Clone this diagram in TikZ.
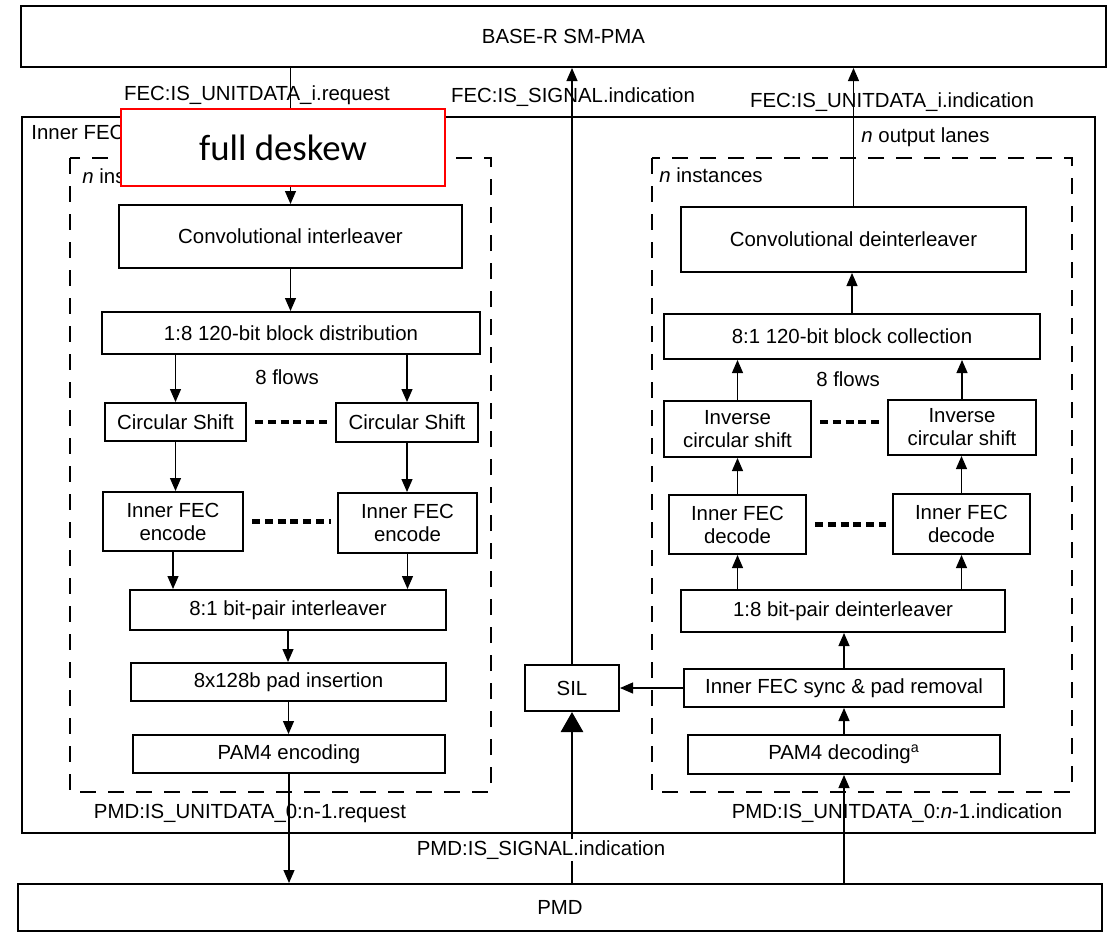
\documentclass[tikz,border=0pt]{standalone}
\usepackage{fontspec}
\setmainfont{Liberation Sans}
\newfontfamily\deskewfont{Carlito}
\usetikzlibrary{arrows.meta}
\newcommand{\lbl}{\fontsize{10.2}{11.5}\selectfont}

\begin{document}
\begin{tikzpicture}[x=0.5pt,y=-0.5pt,
  block/.style={draw,line width=1pt,inner sep=0pt,align=center,font=\lbl},
  sig/.style={font=\lbl,inner sep=1pt},
  arr/.style={-{Triangle[width=5.5pt,length=6.5pt]},line width=0.6pt},
  bigarr/.style={-{Triangle[width=11pt,length=10pt]},line width=1.4pt},
  dots/.style={line width=2.2pt,dash pattern=on 4pt off 2.4pt,shorten <=4pt,shorten >=3pt},
  inst/.style={line width=0.6pt,dash pattern=on 8pt off 6pt}]
\useasboundingbox (0,0) rectangle (1114,932);

% layers above and below
\node[block,minimum width=542.5pt,minimum height=30.5pt] (sm) at (563.5,36.5) {BASE-R SM-PMA};
\node[block,minimum width=542pt,minimum height=23.5pt] (pmd) at (560,907.5) {PMD};
\draw[line width=1.2pt] (22,117) rectangle (1095,833);
\node[sig,anchor=west] (fec) at (29,132) {Inner FEC};

% transmit direction
\draw[inst] (70,158) rectangle (491,792);
\node[sig,anchor=west] (ntx) at (80,176) {\textit{n} instances};
\node[block,minimum width=171.5pt,minimum height=31.5pt] (cil) at (290.5,236.5) {Convolutional interleaver};
\node[block,minimum width=189pt,minimum height=21pt] (dist) at (291,333) {1:8 120-bit block distribution};
\node[sig] (flowtx) at (287,377) {8 flows};
\node[block,minimum width=70.5pt,minimum height=19pt] (csa) at (175.5,422) {Circular Shift};
\node[block,minimum width=71pt,minimum height=19.5pt] (csb) at (407,422.5) {Circular Shift};
\node[block,minimum width=70pt,minimum height=29.5pt] (enca) at (173,521.5) {Inner FEC\\encode};
\node[block,minimum width=69.5pt,minimum height=30pt] (encb) at (407.5,523) {Inner FEC\\encode};
\node[block,minimum width=158pt,minimum height=20pt] (bil) at (288,610) {8:1 bit-pair interleaver};
\node[block,minimum width=157.5pt,minimum height=19pt] (pad) at (288.5,682) {8x128b pad insertion};
\node[block,minimum width=156pt,minimum height=19pt] (penc) at (289,754) {PAM4 encoding};

\draw[arr] (cil.north |- sm.south) -- (cil.north);
\draw[arr] (cil.south) -- (cil.south |- dist.north);
\draw[arr] (csa.north |- dist.south) -- (csa.north);
\draw[arr] (csb.north |- dist.south) -- (csb.north);
\draw[arr] (csa.south) -- (csa.south |- enca.north);
\draw[arr] (csb.south) -- (csb.south |- encb.north);
\draw[arr] (enca.south) -- (enca.south |- bil.north);
\draw[arr] (encb.south) -- (encb.south |- bil.north);
\draw[arr] (bil.south) -- (bil.south |- pad.north);
\draw[arr] (pad.south) -- (pad.south |- penc.north);
\draw[arr] (penc.south) -- (penc.south |- pmd.north);
\draw[dots] (csa.east) -- (csa.east -| csb.west);
\draw[dots] (enca.east) -- (enca.east -| encb.west);

% receive direction
\draw[inst] (652,158) rectangle (1072,792);
\node[sig,anchor=west] (nrx) at (657,175) {\textit{n} instances};
\node[sig,anchor=west] (lanes) at (859,137) {\textit{n} output lanes};
\node[block,minimum width=172.5pt,minimum height=32.5pt] (cdil) at (853.5,239.5) {Convolutional deinterleaver};
\node[block,minimum width=188pt,minimum height=22.5pt] (coll) at (852,336.5) {8:1 120-bit block collection};
\node[sig] (flowrx) at (848,379) {8 flows};
\node[block,minimum width=73.5pt,minimum height=28pt] (icsa) at (737.5,429) {Inverse\\circular shift};
\node[block,minimum width=74pt,minimum height=27.5pt] (icsb) at (962,427.5) {Inverse\\circular shift};
\node[block,minimum width=68.5pt,minimum height=29.5pt] (deca) at (737.5,524.5) {Inner FEC\\decode};
\node[block,minimum width=68.5pt,minimum height=30pt] (decb) at (961.5,524) {Inner FEC\\decode};
\node[block,minimum width=162pt,minimum height=21pt] (bdil) at (843,611) {1:8 bit-pair deinterleaver};
\node[block,minimum width=160pt,minimum height=19pt] (sync) at (844,688) {Inner FEC sync \& pad removal};
\node[block,minimum width=156pt,minimum height=19.5pt] (pdec) at (844,754.5) {PAM4 decoding\textsuperscript{a}};
\node[block,minimum width=47pt,minimum height=23pt] (sil) at (572,688) {SIL};

\draw[arr] (pdec.south |- pmd.north) -- (pdec.south);
\draw[arr] (pdec.north) -- (pdec.north |- sync.south);
\draw[arr] (sync.north) -- (sync.north |- bdil.south);
\draw[arr] (deca.south |- bdil.north) -- (deca.south);
\draw[arr] (decb.south |- bdil.north) -- (decb.south);
\draw[arr] (deca.north) -- (deca.north |- icsa.south);
\draw[arr] (decb.north) -- (decb.north |- icsb.south);
\draw[arr] (icsa.north) -- (icsa.north |- coll.south);
\draw[arr] (icsb.north) -- (icsb.north |- coll.south);
\draw[arr] (coll.north) -- (coll.north |- cdil.south);
\draw[arr] (cdil.north) -- (cdil.north |- sm.south);
\draw[dots] ([yshift=3.5pt]icsa.east) -- ([yshift=3.5pt]icsa.east -| icsb.west);
\draw[dots] (deca.east) -- (deca.east -| decb.west);

% signal path
\draw[arr] (sync.west) -- (sync.west -| sil.east);
\draw[arr] (sil.north) -- (sil.north |- sm.south);
\draw[bigarr] (sil.south |- pmd.north) -- (sil.south);

% service primitives
\node[sig] (txreq) at (257,95) {FEC:IS\_UNITDATA\_i.request};
\node[sig] (sigind) at (573,97) {FEC:IS\_SIGNAL.indication};
\node[sig] (rxind) at (892,102) {FEC:IS\_UNITDATA\_i.indication};
\node[sig] (pmdreq) at (250,813) {PMD:IS\_UNITDATA\_0:n-1.request};
\node[sig] (pmdind) at (897,813) {PMD:IS\_UNITDATA\_0:\textit{n}-1.indication};
\node[sig,fill=white] (pmdsig) at (541,850) {PMD:IS\_SIGNAL.indication};

% note
\node[draw=red,line width=1pt,fill=white,minimum width=162pt,minimum height=38.5pt,
  font={\deskewfont\fontsize{18.4}{20}\selectfont}] (deskew) at (283,147.5) {full deskew};
\end{tikzpicture}
\end{document}
